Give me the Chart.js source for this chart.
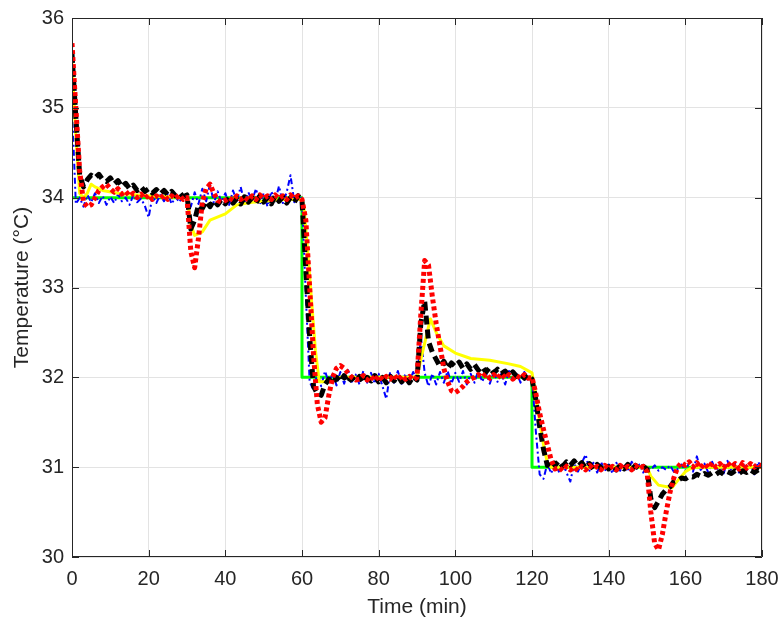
<!DOCTYPE html>
<html lang="en">
<head>
    <meta charset="UTF-8">
    <title>Temperature</title>
    <script src="https://cdn.jsdelivr.net/npm/chart.js@4/dist/chart.umd.min.js"></script>
    <style>
        body { margin: 0; background: #fff; }
        #wrap { width: 779px; height: 626px; }
    </style>
</head>
<body>
    <div id="wrap"><canvas id="graph1" width="779" height="626"></canvas></div>
    <script>
        // sample times (min), one per minute
        const minutes = Array.from({ length: 181 }, (_, i) => i);

        const blueVals = [
            35.0, 33.93, 34.0, 33.9, 34.03, 33.95, 34.05, 33.94, 34.02, 33.92,
            34.01, 33.94, 34.04, 33.96, 34.0, 33.92, 34.03, 33.95, 33.99, 33.91,
            33.78, 34.02, 33.94, 34.03, 33.96, 34.04, 33.93, 34.01, 33.95, 34.03,
            33.96, 33.9, 34.06, 33.93, 34.1, 33.96, 34.15, 33.94, 34.07, 33.95,
            34.05, 33.92, 34.08, 33.96, 34.12, 33.94, 34.06, 33.97, 34.1, 33.93,
            34.05, 33.9, 34.07, 33.96, 34.13, 33.94, 34.06, 34.25, 33.95, 34.04,
            33.98, 32.9, 31.95, 31.86, 32.05, 31.9, 32.07, 31.94, 32.04, 31.91,
            32.06, 31.93, 32.08, 31.95, 32.03, 31.92, 32.07, 31.94, 32.05, 31.93,
            32.04, 31.9, 31.76, 32.06, 31.94, 32.07, 31.93, 32.04, 31.95, 32.06,
            31.97, 32.45, 32.05, 31.9, 32.04, 31.92, 32.06, 31.94, 32.07, 31.93,
            32.05, 31.95, 32.07, 31.92, 32.04, 31.94, 32.08, 31.95, 32.05, 31.93,
            32.06, 31.95, 32.04, 31.92, 32.07, 31.96, 32.05, 31.94, 32.06, 31.96,
            32.01, 31.4, 30.92, 30.87, 31.04, 30.93, 31.06, 30.95, 31.04, 30.94,
            30.84, 31.04, 30.95, 31.05, 31.14, 30.96, 31.05, 30.94, 31.06, 30.96,
            31.03, 30.93, 31.05, 30.96, 31.04, 30.95, 31.06, 30.97, 31.03, 30.94,
            31.0, 30.97, 31.02, 30.96, 31.0, 30.97, 31.02, 30.95, 30.98, 31.03,
            30.96, 31.05, 30.95, 31.12, 30.97, 31.04, 30.94, 31.06, 30.96, 31.03,
            30.93, 31.07, 30.96, 31.04, 30.94, 31.05, 30.97, 31.03, 30.92, 31.06,
            30.98
        ];

        const blackVals = [
            35.6, 34.9, 34.25, 34.12, 34.2, 34.25, 34.22, 34.26, 34.2, 34.18,
            34.22, 34.15, 34.19, 34.12, 34.16, 34.1, 34.14, 34.08, 34.12, 34.07,
            34.1, 34.05, 34.09, 34.04, 34.08, 34.03, 34.07, 34.02, 34.06, 34.01,
            34.03, 33.65, 33.75, 33.92, 33.88, 33.96, 33.9, 33.97, 33.92, 33.98,
            33.93, 34.0, 33.94, 33.99, 33.93, 34.01, 33.95, 34.0, 33.94, 34.02,
            33.95, 34.0, 33.93, 34.02, 33.96, 34.01, 33.94, 34.0, 33.95, 34.02,
            33.97, 33.2, 32.45, 31.9, 31.82, 31.8, 31.92, 31.98, 31.93, 32.0,
            31.95, 32.02, 31.94, 32.0, 31.95, 32.01, 31.94, 32.0, 31.96, 32.02,
            31.95, 32.0, 31.94, 32.01, 31.96, 32.02, 31.95, 32.0, 31.94, 32.01,
            31.97, 32.6, 32.85, 32.4, 32.28, 32.2, 32.12, 32.18, 32.1, 32.16,
            32.12, 32.17, 32.1, 32.15, 32.09, 32.14, 32.08, 32.12, 32.06, 32.11,
            32.05, 32.09, 32.04, 32.07, 32.02, 32.06, 32.01, 32.04, 31.99, 32.03,
            31.98, 31.75, 31.45, 31.2, 31.02, 31.08, 31.02, 31.07, 31.01, 31.06,
            31.02, 31.07, 31.01, 31.05, 30.99, 31.04, 30.98, 31.03, 30.99, 31.04,
            30.98, 31.03, 30.97, 31.02, 30.98, 31.03, 30.97, 31.02, 30.98, 31.01,
            30.98, 30.65, 30.55, 30.62, 30.7, 30.75, 30.78, 30.84, 30.85, 30.88,
            30.87, 30.9, 30.89, 30.92, 30.9, 30.93, 30.91, 30.94, 30.92, 30.95,
            30.92, 30.95, 30.93, 30.96, 30.93, 30.96, 30.94, 30.97, 30.94, 30.97,
            30.95
        ];

        const redVals = [
            35.72, 35.0, 34.3, 33.95, 33.9, 33.92, 34.0, 34.08, 34.12, 34.15,
            34.1, 34.06, 34.1, 34.04, 34.07, 34.02, 34.05, 34.0, 34.04, 33.99,
            34.03, 33.98, 34.02, 33.99, 34.03, 33.98, 34.02, 33.99, 34.03, 33.98,
            34.0, 33.4, 33.22, 33.55, 33.95, 34.1, 34.15, 34.05, 33.97, 33.95,
            33.97, 34.0, 33.97, 34.02, 33.98, 34.01, 33.97, 34.02, 33.98, 34.03,
            33.99, 34.02, 33.98, 34.03, 33.99, 34.02, 33.98, 34.03, 33.99, 34.02,
            33.98, 33.75, 33.0, 32.25, 31.7, 31.5, 31.55, 31.8, 32.0, 32.1,
            32.13, 32.1, 32.05, 32.0, 31.97, 31.98, 32.02, 31.97, 32.01, 31.96,
            32.02, 31.97, 32.01, 31.98, 32.03, 31.97, 32.02, 31.98, 32.01, 31.97,
            32.0, 32.7, 33.3, 33.25, 32.9, 32.6, 32.35, 32.1, 31.95, 31.85,
            31.83, 31.86, 31.9, 31.95, 31.98, 32.0, 32.03, 32.0, 32.04, 31.99,
            32.03, 31.99, 32.04, 31.99, 32.03, 31.98, 32.02, 31.99, 32.03, 31.99,
            32.0, 31.82, 31.6, 31.42, 31.25, 31.08, 30.98, 31.0, 30.96, 31.01,
            30.97, 31.0, 30.96, 31.01, 30.97, 31.02, 30.98, 31.01, 30.97, 31.02,
            30.98, 31.01, 30.97, 31.02, 30.98, 31.01, 30.97, 31.02, 30.98, 31.01,
            30.95, 30.5, 30.15, 30.08, 30.25, 30.5, 30.72, 30.88, 31.0, 31.05,
            31.02, 31.06, 31.0, 31.05, 30.99, 31.04, 30.99, 31.05, 31.0, 31.04,
            30.99, 31.05, 31.0, 31.04, 30.98, 31.05, 30.99, 31.04, 31.0, 31.04,
            31.0
        ];

        // smooth (yellow) response, read at its bends
        const yellowTimes = [0, 1, 2, 3, 4, 5, 6, 8, 12, 20, 30, 31, 32, 34, 36, 40, 43, 47, 55, 60,
            60.5, 61.5, 62.5, 63.5, 64.5, 67, 70, 90, 91, 93.5, 95, 97, 100, 104, 109, 114, 117, 120,
            121, 122, 123, 124, 125, 150, 151, 153, 156.5, 158, 160, 162, 180];
        const yellowVals = [35.5, 34.7, 34.05, 34.0, 34.05, 34.15, 34.12, 34.08, 34.05, 34.02, 34.0, 33.7, 33.58, 33.62, 33.75, 33.82, 33.92, 33.95, 33.98, 33.98,
            33.9, 33.4, 32.85, 32.3, 31.95, 31.95, 32.0, 32.0, 32.2, 32.65, 32.5, 32.35, 32.27, 32.21, 32.19, 32.15, 32.12, 32.05,
            31.8, 31.5, 31.25, 31.05, 31.0, 31.0, 30.9, 30.8, 30.77, 30.85, 30.95, 31.0, 31.0];

        // set point (green)
        const setTimes = [0, 60, 60, 120, 120, 180];
        const setVals = [34, 34, 32, 32, 31, 31];

        const xTicks = [0, 20, 40, 60, 80, 100, 120, 140, 160, 180];
        const yTicks = [30, 31, 32, 33, 34, 35, 36];

        function pairs(xs, ys) {
            return xs.map((x, i) => ({ x: x, y: ys[i] }));
        }

        // box round the axes with inward ticks
        const boxPlugin = {
            id: "box",
            afterDatasetsDraw(chart) {
                const ctx = chart.ctx;
                const a = chart.chartArea;
                const xs = chart.scales.x, ys = chart.scales.y;
                ctx.save();
                ctx.strokeStyle = "#262626";
                ctx.lineWidth = 1;
                ctx.beginPath();
                ctx.rect(a.left + 0.5, a.top + 0.5, a.right - a.left - 1, a.bottom - a.top - 1);
                xTicks.forEach(v => {
                    const px = Math.round(xs.getPixelForValue(v)) + 0.5;
                    ctx.moveTo(px, a.bottom); ctx.lineTo(px, a.bottom - 7);
                    ctx.moveTo(px, a.top); ctx.lineTo(px, a.top + 7);
                });
                yTicks.forEach(v => {
                    const py = Math.round(ys.getPixelForValue(v)) + 0.5;
                    ctx.moveTo(a.left, py); ctx.lineTo(a.left + 7, py);
                    ctx.moveTo(a.right, py); ctx.lineTo(a.right - 7, py);
                });
                ctx.stroke();
                ctx.restore();
            }
        };

        const font = { family: "'Liberation Sans', Arial, sans-serif", size: 20 };

        new Chart("graph1", {
            type: "line",
            data: {
                datasets: [{
                    data: pairs(minutes, redVals),
                    borderColor: "#ff0000",
                    borderWidth: 5,
                    borderDash: [4, 3],
                    order: 1
                }, {
                    data: pairs(minutes, blackVals),
                    borderColor: "#000000",
                    borderWidth: 5,
                    borderDash: [9, 5],
                    order: 2
                }, {
                    data: pairs(yellowTimes, yellowVals),
                    borderColor: "#ffff00",
                    borderWidth: 3,
                    order: 3
                }, {
                    data: pairs(minutes, blueVals),
                    borderColor: "#0000ff",
                    borderWidth: 2,
                    borderDash: [6, 3, 2, 3],
                    order: 4
                }, {
                    data: pairs(setTimes, setVals),
                    borderColor: "#00ff00",
                    borderWidth: 3,
                    order: 5
                }]
            },
            options: {
                responsive: false,
                animation: false,
                events: [],
                elements: {
                    point: { radius: 0 },
                    line: { tension: 0, fill: false, borderCapStyle: "butt", borderJoinStyle: "round" }
                },
                layout: { padding: { top: 18, right: 17, left: 0, bottom: 0 } },
                plugins: { legend: { display: false }, tooltip: { enabled: false } },
                scales: {
                    x: {
                        type: "linear",
                        min: 0, max: 180,
                        afterBuildTicks: s => { s.ticks = xTicks.map(v => ({ value: v })); },
                        ticks: { font: font, color: "#262626", padding: 10, maxRotation: 0 },
                        grid: { color: "#e3e3e3", drawTicks: false },
                        border: { display: false },
                        title: { display: true, text: "Time (min)", font: { family: font.family, size: 21 }, color: "#262626", padding: { top: 0, bottom: 6 } },
                        afterFit: s => { s.height = 69; s.paddingLeft = 0; s.paddingRight = 0; }
                    },
                    y: {
                        type: "linear",
                        min: 30, max: 36,
                        afterBuildTicks: s => { s.ticks = yTicks.map(v => ({ value: v })); },
                        ticks: { font: font, color: "#262626", padding: 8 },
                        grid: { color: "#e3e3e3", drawTicks: false },
                        border: { display: false },
                        title: { display: true, text: "Temperature (°C)", font: { family: font.family, size: 21 }, color: "#262626", padding: { top: 10, bottom: 0 } },
                        afterFit: s => { s.width = 72; s.paddingTop = 0; s.paddingBottom = 0; }
                    }
                }
            },
            plugins: [boxPlugin]
        });
    </script>
</body>
</html>
